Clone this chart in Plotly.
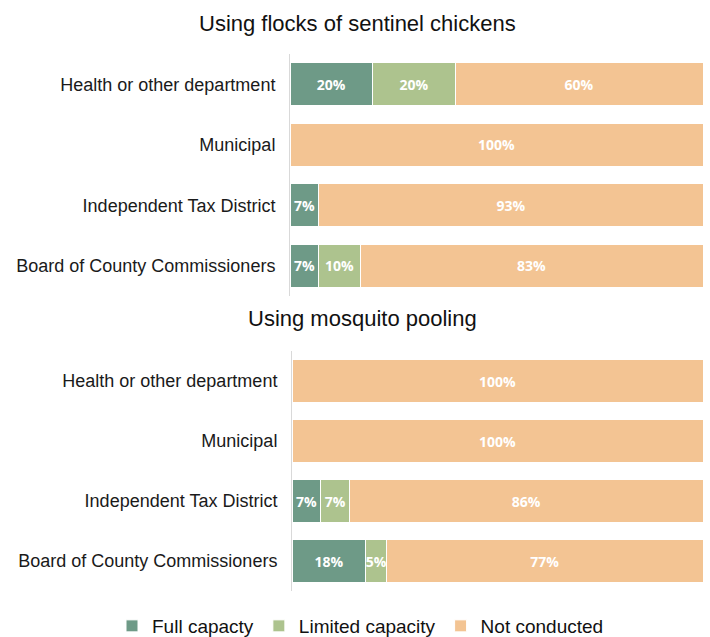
import plotly.graph_objects as go

categories = ["Health or other department", "Municipal", "Independent Tax District", "Board of County Commissioners"]
series_names = ["Full capacty", "Limited capacity", "Not conducted"]

chickens_full = [20, 0, 7, 7]
chickens_limited = [20, 0, 0, 10]
chickens_not = [60, 100, 93, 83]

pooling_full = [0, 0, 7, 18]
pooling_limited = [0, 0, 7, 5]
pooling_not = [100, 100, 86, 77]

panel_titles = ["Using flocks of sentinel chickens", "Using mosquito pooling"]
colors = ["#6E9A87", "#ADC38E", "#F3C493"]

W, H = 710, 637
FONT = "Liberation Sans"

def fy(px):
    return 1 - px / H

fig = go.Figure()

panels = [
    ([chickens_full, chickens_limited, chickens_not], "x", "y", True),
    ([pooling_full, pooling_limited, pooling_not], "x2", "y2", False),
]

for vals, xa, ya, showleg in panels:
    for name, v, c in zip(series_names, vals, colors):
        fig.add_trace(go.Bar(
            y=categories, x=v, name=name, orientation="h",
            marker=dict(color=c, line=dict(color="white", width=1)),
            text=[f"{val}%" if val > 0 else "" for val in v],
            textposition="inside", insidetextanchor="middle", textangle=0,
            textfont=dict(color="white", size=14, family="Open Sans", weight="bold"),
            xaxis=xa, yaxis=ya, showlegend=showleg, legendgroup=name,
            hoverinfo="skip",
        ))

yaxis_common = dict(
    categoryorder="array", categoryarray=categories[::-1],
    showline=True, linecolor="#D9D9D9", linewidth=1,
    ticks="", ticklabelstandoff=10, automargin=False,
    tickfont=dict(family=FONT, size=18, color="#1A1A1A"),
    showgrid=False, zeroline=False, fixedrange=True,
)
xaxis_common = dict(range=[0, 100], visible=False, showgrid=False, zeroline=False)

fig.update_layout(
    width=W, height=H,
    margin=dict(l=0, r=0, t=0, b=0, autoexpand=False),
    paper_bgcolor="white", plot_bgcolor="white",
    barmode="stack", bargap=0.29,
    uniformtext=dict(mode="show", minsize=14),
    xaxis=dict(domain=[290 / W, 703 / W], anchor="y", **xaxis_common),
    yaxis=dict(domain=[fy(296), fy(54)], anchor="x", **yaxis_common),
    xaxis2=dict(domain=[292 / W, 703 / W], anchor="y2", **xaxis_common),
    yaxis2=dict(domain=[fy(591), fy(351)], anchor="x2", **yaxis_common),
    legend=dict(
        orientation="h", x=112 / W, xanchor="left", y=fy(626), yanchor="middle",
        font=dict(family=FONT, size=19, color="#111111"),
        itemwidth=30, traceorder="normal",
    ),
    annotations=[
        dict(text=panel_titles[0], x=357 / W, y=fy(23), xref="paper", yref="paper",
             showarrow=False, xanchor="center", yanchor="middle",
             font=dict(family=FONT, size=22, color="#111111")),
        dict(text=panel_titles[1], x=362 / W, y=fy(319), xref="paper", yref="paper",
             showarrow=False, xanchor="center", yanchor="middle",
             font=dict(family=FONT, size=22, color="#111111")),
    ],
)

fig.write_html("out.html", config={"displayModeBar": False},
               post_script="document.body.style.margin='0';")
